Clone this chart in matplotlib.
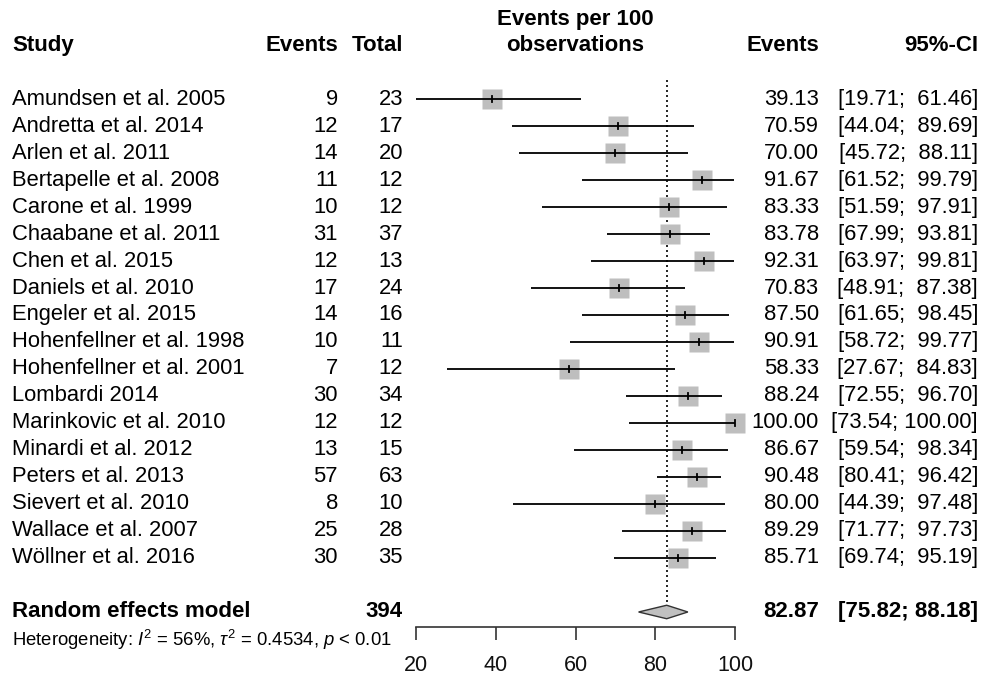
import numpy as np
import matplotlib
matplotlib.use("Agg")
import matplotlib.pyplot as plt
from matplotlib.transforms import blended_transform_factory

plt.rcParams['font.family'] = ['Liberation Sans', 'DejaVu Sans']
plt.rcParams['mathtext.fontset'] = 'custom'
plt.rcParams['mathtext.rm'] = 'Liberation Sans'
plt.rcParams['mathtext.it'] = 'Liberation Sans:italic'

# study data
studies = ["Amundsen et al. 2005", "Andretta et al. 2014", "Arlen et al. 2011",
           "Bertapelle et al. 2008", "Carone et al. 1999", "Chaabane et al. 2011",
           "Chen et al. 2015", "Daniels et al. 2010", "Engeler et al. 2015",
           "Hohenfellner et al. 1998", "Hohenfellner et al. 2001", "Lombardi 2014",
           "Marinkovic et al. 2010", "Minardi et al. 2012", "Peters et al. 2013",
           "Sievert et al. 2010", "Wallace et al. 2007", "Wöllner et al. 2016"]
events = [9, 12, 14, 11, 10, 31, 12, 17, 14, 10, 7, 30, 12, 13, 57, 8, 25, 30]
totals = [23, 17, 20, 12, 12, 37, 13, 24, 16, 11, 12, 34, 12, 15, 63, 10, 28, 35]
est = [39.13, 70.59, 70.00, 91.67, 83.33, 83.78, 92.31, 70.83, 87.50, 90.91,
       58.33, 88.24, 100.00, 86.67, 90.48, 80.00, 89.29, 85.71]
lower = [19.71, 44.04, 45.72, 61.52, 51.59, 67.99, 63.97, 48.91, 61.65, 58.72,
         27.67, 72.55, 73.54, 59.54, 80.41, 44.39, 71.77, 69.74]
upper = [61.46, 89.69, 88.11, 99.79, 97.91, 93.81, 99.81, 87.38, 98.45, 99.77,
         84.83, 96.70, 100.00, 98.34, 96.42, 97.48, 97.73, 95.19]

re_total = 394
re_est, re_lo, re_hi = 82.87, 75.82, 88.18
xticks = [20, 40, 60, 80, 100]

W, H = 984, 682
fig = plt.figure(figsize=(W / 100, H / 100), dpi=100)
fig.patch.set_facecolor('white')

# forest panel: x 20..100 -> px 416..735 ; rows every 27 px starting at 99 px
ax = fig.add_axes([416 / W, 1 - 627 / H, (735 - 416) / W, (627 - 80) / H])
ax.set_xlim(20, 100)
ax.set_ylim(19.556, -0.704)
for s in ['top', 'right', 'left']:
    ax.spines[s].set_visible(False)
ax.spines['bottom'].set_color('#333333')
ax.spines['bottom'].set_linewidth(1.2)
ax.set_yticks([])
ax.set_xticks(xticks)
ax.set_xticklabels([str(t) for t in xticks])
ax.tick_params(axis='x', length=9.5, width=1.2, color='#333333', labelsize=15.5,
               pad=11, labelcolor='#111111')

rows = np.arange(len(studies))
n = len(studies)
re_row = n + 1

# dotted line at pooled estimate
ax.plot([re_est, re_est], [-0.704, re_row - 0.26], color='black', lw=1.2,
        ls=(0, (1.2, 1.8)), zorder=1)

for i in range(n):
    lo = max(lower[i], 20)
    ax.plot([lo, upper[i]], [rows[i], rows[i]], color='black', lw=1.3, zorder=3,
            solid_capstyle='butt', clip_on=False)
    ax.plot([est[i]], [rows[i]], marker='s', ms=15, color='#bebebe', mec='none',
            zorder=2, clip_on=False)
    ax.plot([est[i], est[i]], [rows[i] - 0.12, rows[i] + 0.12], color='black',
            lw=1.3, zorder=4, clip_on=False)

# diamond
ax.fill([re_lo, re_est, re_hi, re_est], [re_row, re_row - 0.25, re_row, re_row + 0.25],
        facecolor='#c0c0c0', edgecolor='#333333', lw=1.0, zorder=3, clip_on=False)

tr = blended_transform_factory(fig.transFigure, ax.transData)
fs = 15.8
fsb = 16

def px(x):
    return x / W

# headers
hdr_row = -2.0
ax.text(px(12), hdr_row, "Study", transform=tr, fontsize=fsb, weight='bold',
        ha='left', va='center')
ax.text(px(338), hdr_row, "Events", transform=tr, fontsize=fsb, weight='bold',
        ha='right', va='center')
ax.text(px(403), hdr_row, "Total", transform=tr, fontsize=fsb, weight='bold',
        ha='right', va='center')
ax.text(px(575), hdr_row - 0.96, "Events per 100", transform=tr, fontsize=fsb,
        weight='bold', ha='center', va='center')
ax.text(px(575), hdr_row, "observations", transform=tr, fontsize=fsb,
        weight='bold', ha='center', va='center')
ax.text(px(819), hdr_row, "Events", transform=tr, fontsize=fsb, weight='bold',
        ha='right', va='center')
ax.text(px(978), hdr_row, "95%-CI", transform=tr, fontsize=fsb, weight='bold',
        ha='right', va='center')

for i in range(n):
    ax.text(px(12), rows[i], studies[i], transform=tr, fontsize=fs, ha='left', va='center')
    ax.text(px(338), rows[i], str(events[i]), transform=tr, fontsize=fs, ha='right', va='center')
    ax.text(px(403), rows[i], str(totals[i]), transform=tr, fontsize=fs, ha='right', va='center')
    ax.text(px(819), rows[i], f"{est[i]:.2f}", transform=tr, fontsize=fs, ha='right', va='center')
    ax.text(px(978), rows[i], f"[{lower[i]:5.2f}; {upper[i]:6.2f}]", transform=tr,
            fontsize=fs, ha='right', va='center')

ax.text(px(12), re_row, "Random effects model", transform=tr, fontsize=fsb,
        weight='bold', ha='left', va='center')
ax.text(px(403), re_row, str(re_total), transform=tr, fontsize=fsb, weight='bold',
        ha='right', va='center')
ax.text(px(819), re_row, f"{re_est:.2f}", transform=tr, fontsize=fsb, weight='bold',
        ha='right', va='center')
ax.text(px(978), re_row, f"[{re_lo:.2f}; {re_hi:.2f}]", transform=tr, fontsize=fsb,
        weight='bold', ha='right', va='center')
ax.text(px(12), re_row + 1.04,
        r"Heterogeneity: $I^2$ = 56%, $\tau^2$ = 0.4534, $p$ < 0.01",
        transform=tr, fontsize=13.3, ha='left', va='center')

fig.savefig("out.png", dpi=100, facecolor='white')
